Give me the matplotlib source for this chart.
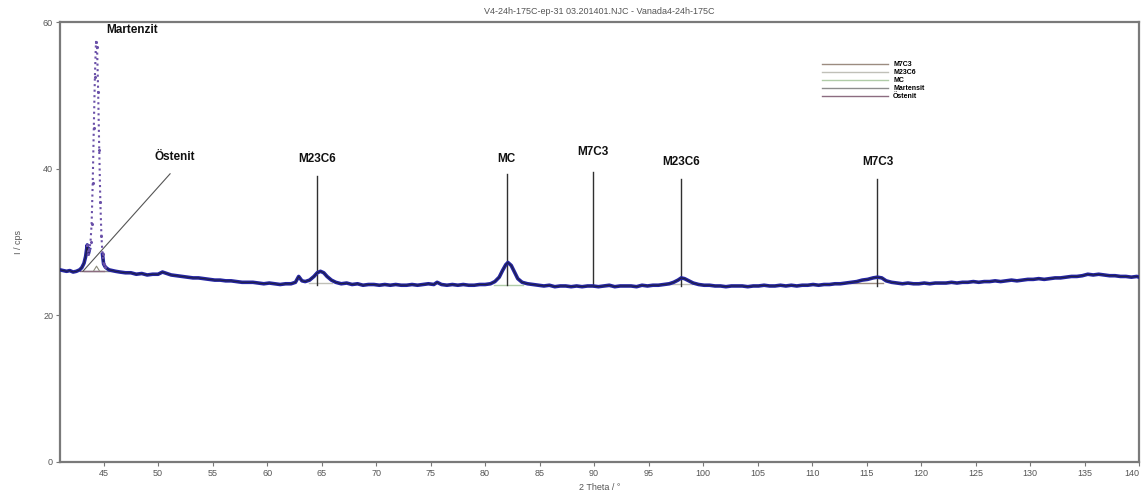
import numpy as np
import matplotlib
matplotlib.use("Agg")
import matplotlib.pyplot as plt

plt.rcParams['font.family'] = ['Liberation Sans', 'DejaVu Sans']

# measured diffractogram (2 theta in degrees, intensity in cps)
two_theta = [41.0, 41.3, 41.6, 41.9, 42.2, 42.5, 42.8, 43.0, 43.2, 43.35, 43.5, 43.6,
             43.7, 43.8, 43.9, 44.0, 44.1, 44.2, 44.3, 44.4, 44.5, 44.6, 44.7, 44.8,
             44.9, 45.0, 45.15, 45.3, 45.5, 45.8, 46.1, 46.5, 47.0, 47.5, 48.0, 48.5,
             49.0, 49.5, 50.0, 50.4, 50.8, 51.2, 51.7, 52.2, 52.7, 53.2, 53.7, 54.2,
             54.7, 55.2, 55.7, 56.2, 56.7, 57.2, 57.7, 58.2, 58.7, 59.2, 59.7, 60.2,
             60.7, 61.2, 61.7, 62.2, 62.6, 62.9, 63.2, 63.5, 63.9, 64.3, 64.6, 64.9,
             65.2, 65.5, 65.9, 66.3, 66.8, 67.3, 67.8, 68.3, 68.8, 69.3, 69.8, 70.3,
             70.8, 71.3, 71.8, 72.3, 72.8, 73.3, 73.8, 74.3, 74.8, 75.3, 75.6, 76.0,
             76.5, 77.0, 77.5, 78.0, 78.5, 79.0, 79.5, 80.0, 80.5, 80.9, 81.3, 81.6,
             81.9, 82.1, 82.4, 82.7, 83.0, 83.4, 83.9, 84.4, 84.9, 85.4, 85.9, 86.4,
             86.9, 87.4, 87.9, 88.4, 88.9, 89.4, 89.9, 90.4, 90.9, 91.4, 91.9, 92.4,
             92.9, 93.4, 93.9, 94.4, 94.9, 95.4, 95.9, 96.4, 96.9, 97.3, 97.7, 98.0,
             98.3, 98.7, 99.1, 99.6, 100.1, 100.6, 101.1, 101.6, 102.1, 102.6, 103.1, 103.6,
             104.1, 104.6, 105.1, 105.6, 106.1, 106.6, 107.1, 107.6, 108.1, 108.6, 109.1, 109.6,
             110.1, 110.6, 111.1, 111.6, 112.1, 112.6, 113.1, 113.6, 114.1, 114.6, 115.1, 115.6,
             116.0, 116.4, 116.8, 117.3, 117.8, 118.3, 118.8, 119.3, 119.8, 120.3, 120.8, 121.3,
             121.8, 122.3, 122.8, 123.3, 123.8, 124.3, 124.8, 125.3, 125.8, 126.3, 126.8, 127.3,
             127.8, 128.3, 128.8, 129.3, 129.8, 130.3, 130.8, 131.3, 131.8, 132.3, 132.8, 133.3,
             133.8, 134.3, 134.8, 135.3, 135.8, 136.3, 136.8, 137.3, 137.8, 138.3, 138.8, 139.3,
             139.8, 140.0]
intensity = [26.2, 26.1, 26.0, 26.1, 25.9, 26.0, 26.2, 26.5, 27.1, 28.0, 29.6, 28.4,
             29.0, 30.0, 32.5, 38.0, 45.5, 52.5, 57.3, 56.6, 50.5, 42.5, 35.5, 30.8,
             28.3, 27.0, 26.6, 26.4, 26.2, 26.1, 26.0, 25.9, 25.8, 25.8, 25.6, 25.7,
             25.5, 25.6, 25.6, 25.9, 25.7, 25.5, 25.4, 25.3, 25.2, 25.1, 25.1, 25.0,
             24.9, 24.8, 24.8, 24.7, 24.7, 24.6, 24.5, 24.5, 24.5, 24.4, 24.3, 24.4,
             24.3, 24.2, 24.3, 24.3, 24.5, 25.3, 24.7, 24.6, 24.8, 25.3, 25.8, 26.0,
             25.8, 25.3, 24.8, 24.5, 24.3, 24.4, 24.2, 24.3, 24.1, 24.2, 24.2, 24.1,
             24.2, 24.1, 24.2, 24.1, 24.1, 24.2, 24.1, 24.2, 24.3, 24.2, 24.5, 24.2,
             24.1, 24.2, 24.1, 24.2, 24.1, 24.1, 24.2, 24.2, 24.3, 24.6, 25.2, 26.1,
             26.9, 27.2, 26.8, 25.9, 25.0, 24.5, 24.3, 24.2, 24.1, 24.0, 24.1, 23.9,
             24.0, 24.0, 23.9, 24.0, 23.9, 24.0, 24.0, 23.9, 24.0, 24.1, 23.9, 24.0,
             24.0, 24.0, 23.9, 24.1, 24.0, 24.1, 24.1, 24.2, 24.3, 24.5, 24.8, 25.1,
             25.0, 24.7, 24.4, 24.2, 24.1, 24.1, 24.0, 24.0, 23.9, 24.0, 24.0, 24.0,
             23.9, 24.0, 24.0, 24.1, 24.0, 24.0, 24.1, 24.0, 24.1, 24.0, 24.1, 24.1,
             24.2, 24.1, 24.2, 24.2, 24.3, 24.3, 24.4, 24.5, 24.6, 24.8, 24.9, 25.1,
             25.2, 25.1, 24.7, 24.5, 24.4, 24.3, 24.4, 24.3, 24.3, 24.4, 24.3, 24.4,
             24.4, 24.4, 24.5, 24.4, 24.5, 24.5, 24.6, 24.5, 24.6, 24.6, 24.7, 24.6,
             24.7, 24.8, 24.7, 24.8, 24.9, 24.9, 25.0, 24.9, 25.0, 25.1, 25.1, 25.2,
             25.3, 25.3, 25.4, 25.6, 25.5, 25.6, 25.5, 25.4, 25.4, 25.3, 25.3, 25.2,
             25.3, 25.2]

# phase labels and the reflection each one marks
peak_names = ['M23C6', 'MC', 'M7C3', 'M23C6', 'M7C3']
peak_pos = [64.6, 82.0, 89.9, 98.0, 116.0]
peak_top = [39.0, 39.3, 39.6, 38.6, 38.6]
peak_label_y = [41.3, 41.3, 42.3, 40.9, 40.9]

legend_names = ['M7C3', 'M23C6', 'MC', 'Martensit', 'Östenit']
legend_colors = ['#9c8c80', '#c0c0b8', '#b0cca8', '#8c8c8c', '#8c6c80']
# fitted background segments of each phase (start, end, level)
phase_bg = {
    'M7C3': [(88.5, 91.5, 24.0), (113.5, 116.5, 24.4)],
    'M23C6': [(63.8, 66.0, 24.4), (97.0, 99.0, 24.3)],
    'MC': [(80.8, 83.5, 24.1)],
    'Martensit': [(43.2, 46.0, 26.0)],
    'Östenit': [(42.8, 45.0, 26.1)],
}

fig = plt.figure(figsize=(11.43, 5.01), dpi=100)
ax = fig.add_axes([0.0525, 0.078, 0.944, 0.878])

handles = []
for name, col in zip(legend_names, legend_colors):
    h = None
    for x0, x1, lvl in phase_bg[name]:
        h, = ax.plot([x0, x1], [lvl, lvl], color=col, lw=1.0, zorder=1)
    handles.append(h)

# small Östenit reference reflection
ax.plot([44.1, 44.35, 44.6], [26.1, 26.7, 26.1], color='#8c8c7c', lw=0.8, zorder=1)

tt = np.array(two_theta)
it = np.array(intensity)
# thick trace everywhere except the tall martensite reflection
for m in [tt <= 43.75, tt >= 44.9]:
    ax.plot(tt[m], it[m], color='#2424a0', lw=2.6, zorder=3, solid_joinstyle='round')
    ax.plot(tt[m], it[m], color='#20203c', lw=0.7, zorder=4)
# main martensite reflection drawn with points
pk = (tt >= 43.4) & (tt <= 45.15)
ax.plot(tt[pk], it[pk], color='#6a50a8', lw=1.5, ls=':', marker='.', ms=2.4, zorder=5)

for name, xp, top, ly in zip(peak_names, peak_pos, peak_top, peak_label_y):
    base = np.interp(xp, tt, it)
    ax.plot([xp, xp], [24.0 if base < 25.5 else 24.2, top], color='#303030', lw=1.0, zorder=2)
    ax.text(xp, ly, name, ha='center', va='center', fontsize=8.5, fontweight='bold', color='#111111')

ax.text(45.2, 58.9, 'Martenzit', ha='left', va='center', fontsize=8.5, fontweight='bold', color='#111111')
ax.text(49.7, 41.6, 'Östenit', ha='left', va='center', fontsize=8.5, fontweight='bold', color='#111111')
ax.plot([51.1, 43.1], [39.3, 26.0], color='#555555', lw=0.8, zorder=2)

leg = ax.legend(handles, legend_names, loc='upper left', bbox_to_anchor=(0.7, 0.925),
                frameon=False, handlelength=9.5, handletextpad=0.8, labelspacing=0.15,
                prop={'size': 5, 'weight': 'bold'})

ax.set_xlim(41, 140)
ax.set_ylim(0, 60)
ax.set_xticks(np.arange(45, 141, 5))
ax.set_yticks([0, 20, 40, 60])
ax.tick_params(axis='both', labelsize=6.5, colors='#777777', labelcolor='#555555',
               length=3, width=0.8, direction='out', pad=2)
# keep the last x label inside the figure
ax.get_xticklabels()[-1].set_horizontalalignment('right')
for s in ax.spines.values():
    s.set_color('#7a7a7a')
    s.set_linewidth(1.6)

ax.set_xlabel('2 Theta / °', fontsize=6.5, color='#555555', labelpad=4)
ax.set_ylabel('I / cps', fontsize=6.5, color='#555555', labelpad=14)
ax.set_title('V4-24h-175C-ep-31 03.201401.NJC - Vanada4-24h-175C', fontsize=6.5,
             color='#555555', pad=6)

fig.savefig('out.png', dpi=100)
